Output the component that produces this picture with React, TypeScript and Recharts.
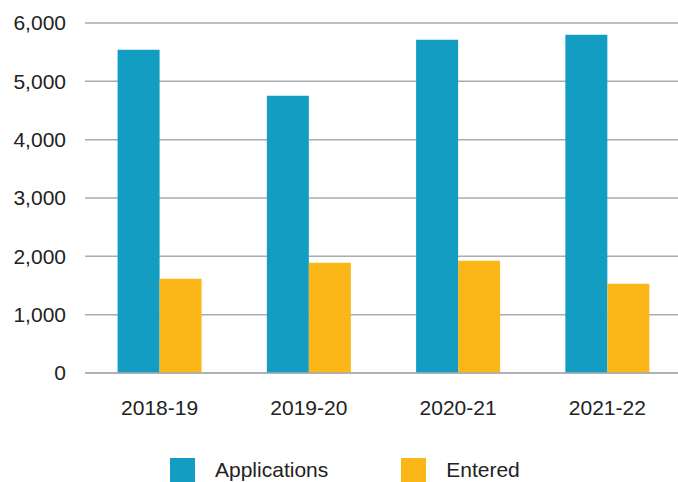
import React from 'react';
import { BarChart, Bar, XAxis, YAxis, CartesianGrid, Legend } from 'recharts';

const years = ['2018-19', '2019-20', '2020-21', '2021-22'];
const applications = [5540, 4755, 5715, 5800];
const entered = [1615, 1890, 1925, 1530];
const yTicks = [0, 1000, 2000, 3000, 4000, 5000, 6000];

const BLUE = '#139DC2';
const ORANGE = '#FBB617';
const GRID = '#A9ACB0';
const FONT = '"Liberation Sans", Arial, sans-serif';

const data = years.map((year, i) => ({
    year,
    applications: applications[i],
    entered: entered[i],
}));

const LegendContent = () => (
    <div
        style={{
            display: 'flex',
            alignItems: 'flex-start',
            height: 40,
            paddingLeft: 170,
            paddingTop: 16,
            boxSizing: 'border-box',
            fontFamily: FONT,
            fontSize: 21,
            lineHeight: '24px',
            color: '#222',
        }}
    >
        <span style={{ width: 25, height: 24, background: BLUE, marginRight: 20 }} />
        <span style={{ marginRight: 73 }}>Applications</span>
        <span style={{ width: 25, height: 24, background: ORANGE, marginRight: 20 }} />
        <span>Entered</span>
    </div>
);

const App: React.FC = () => {
    return (
        <div style={{ position: 'absolute', top: 0, left: 0, width: 678, height: 482, background: '#fff' }}>
            <BarChart
                width={678}
                height={482}
                data={data}
                margin={{ top: 23, right: -4, left: 0, bottom: 0 }}
                barGap={0}
                barCategoryGap={32.6}
            >
                <CartesianGrid vertical={false} stroke={GRID} strokeWidth={1.5} />
                <XAxis
                    dataKey="year"
                    height={69}
                    tickLine={false}
                    tickSize={6}
                    tickMargin={21}
                    axisLine={{ stroke: GRID, strokeWidth: 1.5 }}
                    tick={{ fontSize: 21, fill: '#222', fontFamily: FONT }}
                />
                <YAxis
                    width={85}
                    domain={[0, 6000]}
                    ticks={yTicks}
                    tickFormatter={(v: number) => v.toLocaleString('en-US')}
                    tickLine={false}
                    axisLine={false}
                    tickSize={6}
                    tickMargin={13}
                    tick={{ fontSize: 21, fill: '#222', fontFamily: FONT }}
                />
                <Legend verticalAlign="bottom" content={<LegendContent />} />
                <Bar dataKey="applications" fill={BLUE} isAnimationActive={false} />
                <Bar dataKey="entered" fill={ORANGE} isAnimationActive={false} />
            </BarChart>
        </div>
    );
};

export default App;
